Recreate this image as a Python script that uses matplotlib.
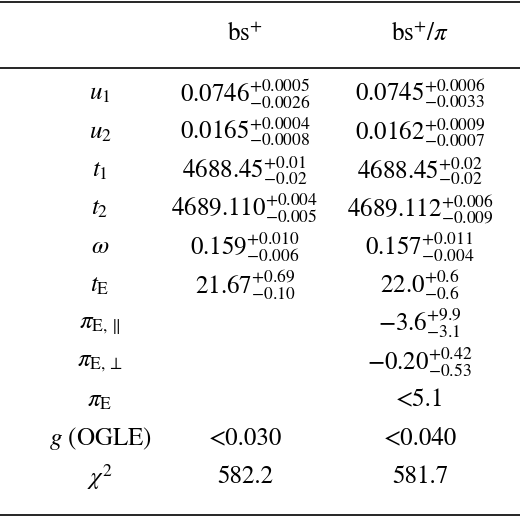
import matplotlib.pyplot as plt

plt.rcParams['mathtext.fontset'] = 'stix'
plt.rcParams['font.family'] = ['STIXGeneral', 'DejaVu Serif']

colonnes = [r'bs$^{+}$', r'bs$^{+}/\pi$']
parametres = [r'$u_1$', r'$u_2$', r'$t_1$', r'$t_2$', r'$\omega$', r'$t_{\rm E}$',
              r'$\pi_{\rm E,\parallel}$', r'$\pi_{\rm E,\perp}$', r'$\pi_{\rm E}$',
              r'$g$ (OGLE)', r'$\chi^2$']

# (valeur, +err, -err) ; None = cellule vide, err None = valeur simple
bs = [('0.0746', '0.0005', '0.0026'), ('0.0165', '0.0004', '0.0008'),
      ('4688.45', '0.01', '0.02'), ('4689.110', '0.004', '0.005'),
      ('0.159', '0.010', '0.006'), ('21.67', '0.69', '0.10'),
      None, None, None, ('<0.030', None, None), ('582.2', None, None)]
bs_pi = [('0.0745', '0.0006', '0.0033'), ('0.0162', '0.0009', '0.0007'),
         ('4688.45', '0.02', '0.02'), ('4689.112', '0.006', '0.009'),
         ('0.157', '0.011', '0.004'), ('22.0', '0.6', '0.6'),
         ('-3.6', '9.9', '3.1'), ('-0.20', '0.42', '0.53'),
         ('<5.1', None, None), ('<0.040', None, None), ('581.7', None, None)]


def cellule(v):
    if v is None:
        return ''
    val, plus, moins = v
    if plus is None:
        return val
    return r'$%s^{+%s}_{-%s}$' % (val, plus, moins)


fig = plt.figure(figsize=(5.2, 5.17), dpi=100)
ax = fig.add_axes([0, 0, 1, 1])
ax.set_xlim(0, 520)
ax.set_ylim(517, 0)
ax.axis('off')

for y in [2, 68, 515]:
    ax.axhline(y, color='black', lw=1.2)

taille = 18
ax.text(245, 35, colonnes[0], ha='center', va='center', fontsize=taille)
ax.text(420, 35, colonnes[1], ha='center', va='center', fontsize=taille)

for i, p in enumerate(parametres):
    y = 94 + i * 38.3
    ax.text(100, y, p, ha='center', va='center', fontsize=taille)
    ax.text(245, y, cellule(bs[i]), ha='center', va='center', fontsize=taille)
    ax.text(420, y, cellule(bs_pi[i]), ha='center', va='center', fontsize=taille)

fig.savefig('out.png', dpi=100)
